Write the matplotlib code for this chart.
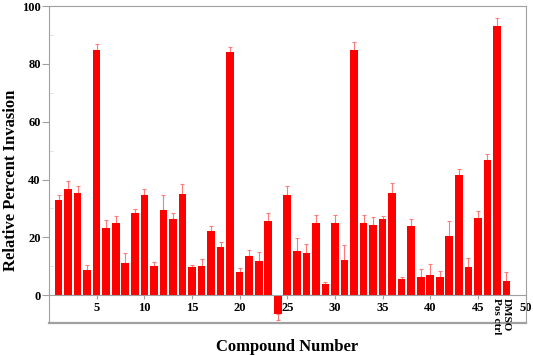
import numpy as np
import matplotlib
matplotlib.use("Agg")
import matplotlib.pyplot as plt
from matplotlib.ticker import MultipleLocator

plt.rcParams['font.family'] = ['Liberation Serif', 'DejaVu Serif']
plt.rcParams['font.weight'] = 'bold'

# compound 1..46, then Pos ctrl (47) and DMSO (48)
compounds = np.arange(1, 49)
invasion = [33.0, 36.8, 35.5, 8.7, 84.7, 23.2, 24.9, 11.2, 28.6, 34.6,
            10.0, 29.5, 26.5, 34.9, 9.6, 10.2, 22.3, 16.7, 84.1, 8.1,
            13.7, 12.0, 25.7, -6.5, 34.7, 15.4, 14.7, 25.0, 3.9, 25.0,
            12.2, 84.7, 25.0, 24.3, 26.2, 35.3, 5.5, 24.1, 6.4, 7.0,
            6.4, 20.5, 41.5, 9.8, 26.8, 46.6, 93.2, 5.0]
errors = [1.8, 2.8, 2.3, 1.7, 2.3, 2.8, 2.6, 3.5, 1.3, 2.2,
          1.4, 5.0, 2.0, 3.4, 0.8, 2.3, 1.7, 1.8, 1.8, 1.3,
          2.0, 3.0, 2.9, 2.1, 2.9, 4.4, 3.0, 2.9, 0.8, 2.9,
          5.3, 2.8, 2.9, 2.8, 1.3, 3.4, 0.8, 2.3, 2.8, 3.8,
          2.0, 5.3, 2.3, 2.9, 2.4, 2.2, 2.8, 2.9]
control_pos = [47, 48]
control_labels = ["Pos ctrl", "DMSO"]

inv = np.array(invasion)
err = np.array(errors)
# error bars only drawn away from zero
lower = np.where(inv < 0, err, 0)
upper = np.where(inv >= 0, err, 0)

fig = plt.figure(figsize=(5.33, 3.55), dpi=100)
ax = fig.add_axes([0.092, 0.091, 0.894, 0.892])

ax.bar(compounds, inv, width=0.8, color="#ff0000", zorder=2)
ax.errorbar(compounds, inv, yerr=[lower, upper], fmt="none", ecolor="#ff7a7a",
            elinewidth=0.8, capsize=1.5, capthick=0.8, zorder=1)

grey = "#a0a0a0"
ax.set_xlim(0, 50)
ax.set_ylim(-9.5, 100)

for s in ["top", "right", "left"]:
    ax.spines[s].set_color(grey)
ax.spines["bottom"].set_position(("data", 0))
ax.spines["bottom"].set_color(grey)
ax.axhline(-9.5, color=grey, linewidth=1.6, clip_on=False)

ax.set_xticks(np.arange(5, 51, 5))
ax.set_yticks(np.arange(0, 101, 20))
ax.yaxis.set_minor_locator(MultipleLocator(10))
ax.tick_params(axis="x", direction="out", length=3, color=grey, labelsize=9, pad=2)
ax.tick_params(axis="y", which="major", direction="out", length=5, color=grey, labelsize=9, pad=1)
ax.tick_params(axis="y", which="minor", direction="in", length=3, color="#dddddd")
for lab in ax.get_xticklabels() + ax.get_yticklabels():
    lab.set_fontweight("bold")

for x, lab in zip(control_pos, control_labels):
    ax.text(x, -1.0, lab, rotation=-90, ha="center", va="top", fontsize=8)

ax.set_xlabel("Compound Number", fontsize=12, fontweight="bold")
ax.set_ylabel("Relative Percent Invasion", fontsize=12, fontweight="bold")
ax.xaxis.set_label_coords(0.5, -0.05)
ax.yaxis.set_label_coords(-0.064, 0.45)

fig.savefig("out.png", dpi=100)
